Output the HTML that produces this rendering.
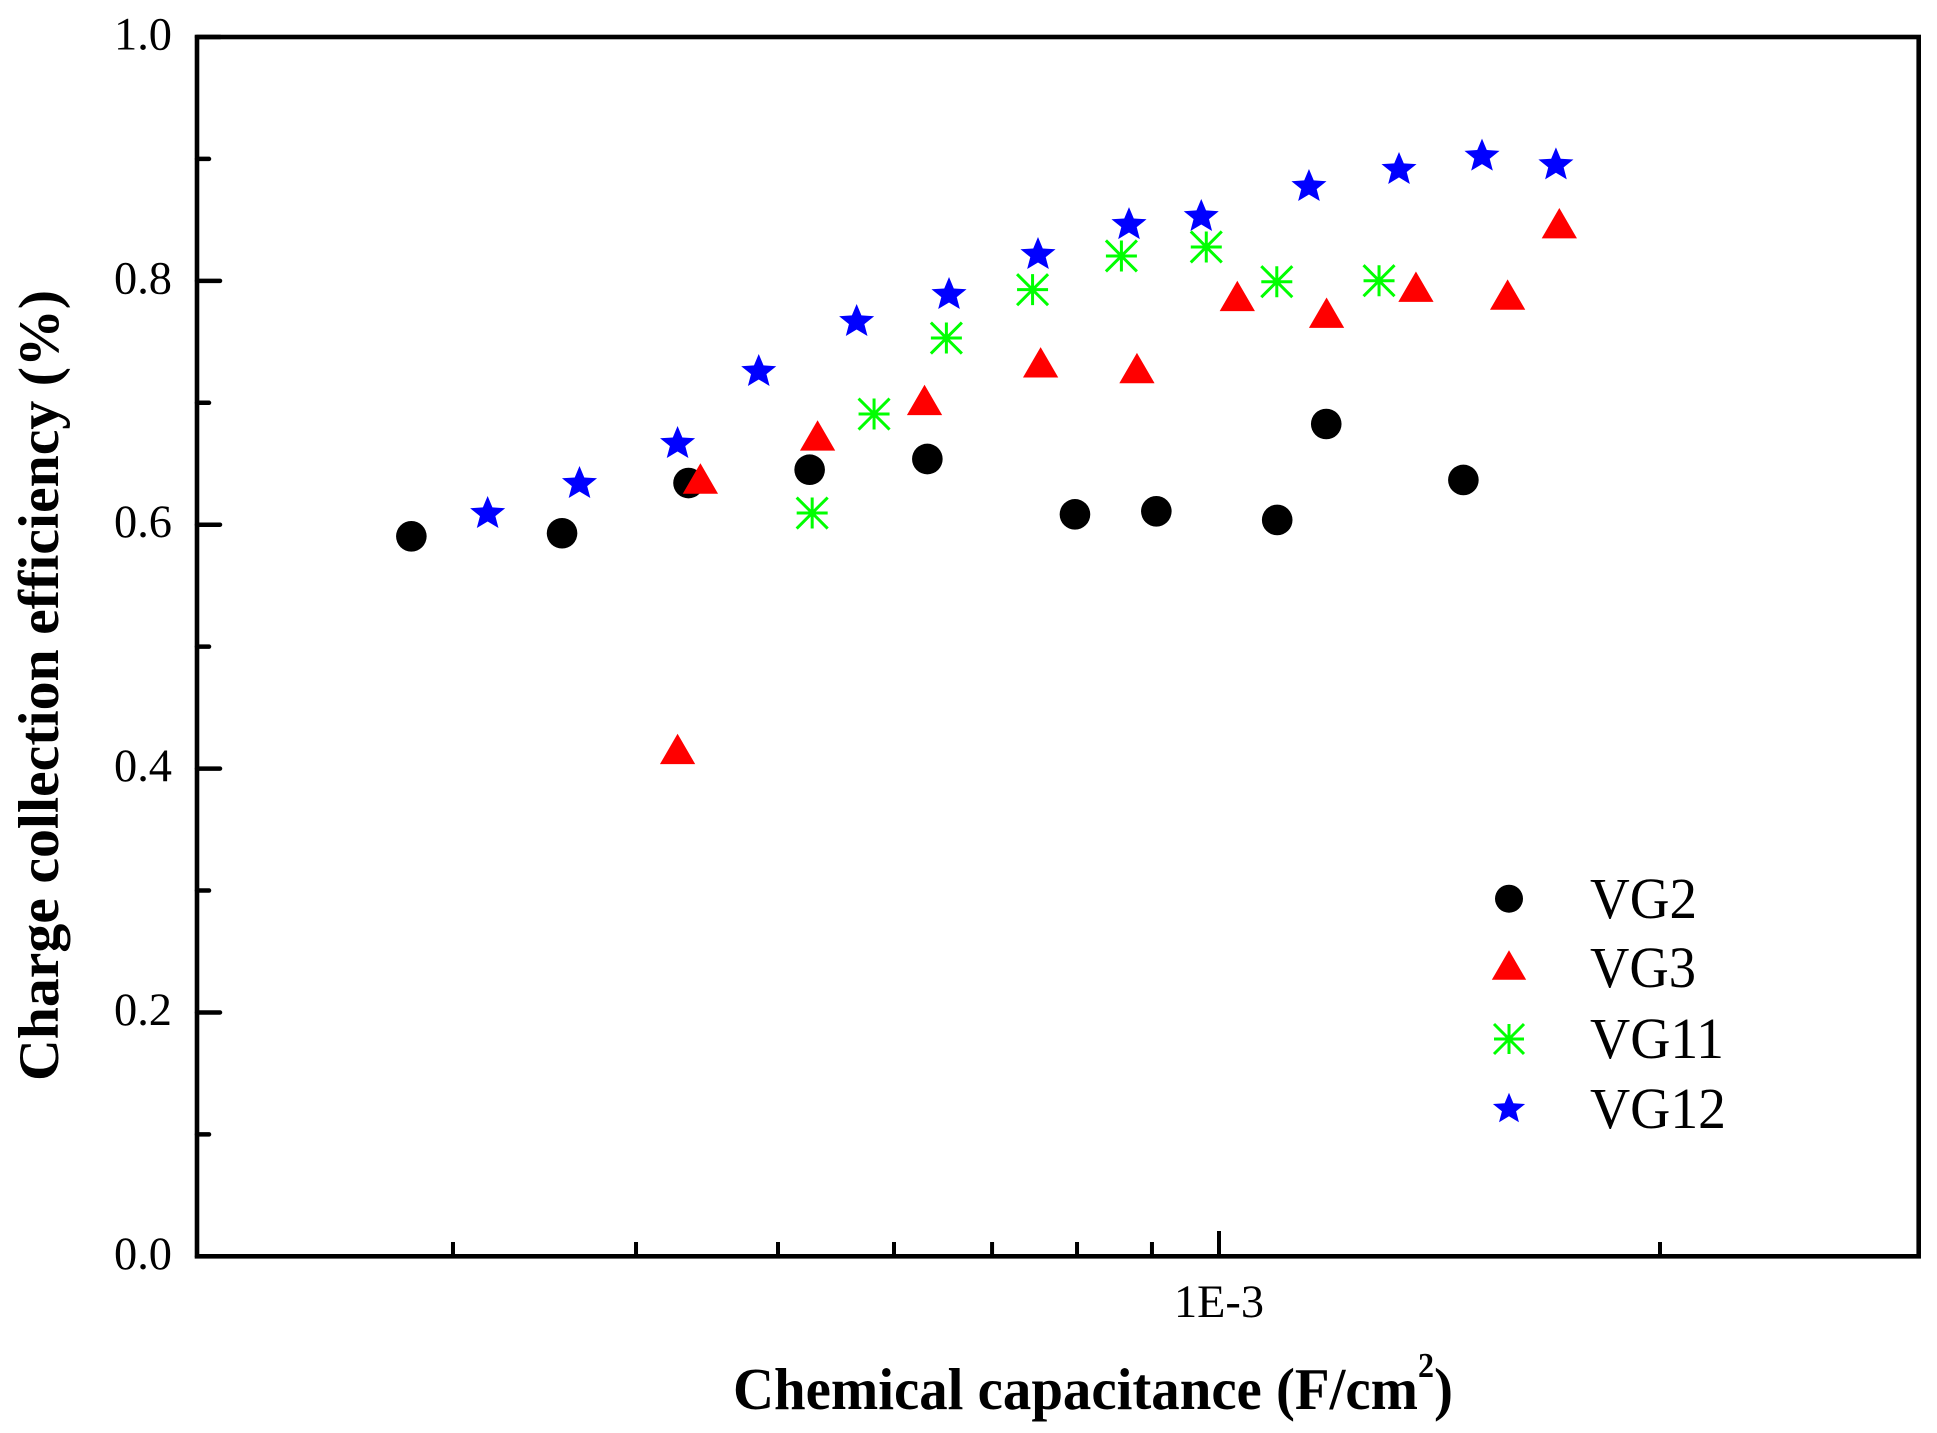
<!DOCTYPE html>
<html lang="en">
<head>
<meta charset="utf-8">
<title>Charge collection efficiency vs chemical capacitance</title>
<style>
  html, body { margin: 0; padding: 0; background: #fff; }
  svg { display: block; font-family: "Liberation Serif", serif; }
</style>
</head>
<body>
<svg id="chart" xmlns="http://www.w3.org/2000/svg" width="1937" height="1433" viewBox="0 0 1937 1433">
  <rect x="0" y="0" width="1937" height="1433" fill="#fff"/>
  <rect x="197" y="37" width="1721.7" height="1219.3" fill="none" stroke="#000" stroke-width="4.6"/>
  <g id="axes"></g>
  <g id="marks"></g>
  <g id="legend"></g>
  <text transform="translate(58,1081) rotate(-90)" font-size="57" font-weight="bold" textLength="791" lengthAdjust="spacingAndGlyphs">Charge collection efficiency (%)</text>
  <g font-weight="bold">
    <text x="733" y="1409" font-size="59" textLength="685" lengthAdjust="spacingAndGlyphs">Chemical capacitance (F/cm</text>
    <text x="1418" y="1377" font-size="35" textLength="16" lengthAdjust="spacingAndGlyphs">2</text>
    <text x="1434" y="1409" font-size="59" textLength="19" lengthAdjust="spacingAndGlyphs">)</text>
  </g>
</svg>
<script>
// ---- chart data ----
const vg2X = [2.810e-4, 3.561e-4, 4.344e-4, 5.255e-4, 6.323e-4, 7.974e-4, 9.062e-4, 1.0958e-3, 1.1836e-3, 1.4683e-3];
const vg2Y = [0.5905, 0.5930, 0.6342, 0.6451, 0.6539, 0.6085, 0.6110, 0.6039, 0.6826, 0.6367];
const vg3X = [4.270e-4, 4.426e-4, 5.321e-4, 6.295e-4, 7.555e-4, 8.790e-4, 1.0292e-3, 1.1842e-3, 1.3628e-3, 1.5740e-3, 1.7073e-3];
const vg3Y = [0.4161, 0.6379, 0.6732, 0.7023, 0.7332, 0.7285, 0.7876, 0.7739, 0.7952, 0.7888, 0.8473];
const vg11X = [5.276e-4, 5.815e-4, 6.515e-4, 7.460e-4, 8.578e-4, 9.802e-4, 1.0951e-3, 1.2860e-3];
const vg11Y = [0.6096, 0.6908, 0.7531, 0.7928, 0.8204, 0.8278, 0.7993, 0.8001];
const vg12X = [3.168e-4, 3.660e-4, 4.270e-4, 4.851e-4, 5.658e-4, 6.542e-4, 7.524e-4, 8.681e-4, 9.725e-4, 1.1519e-3, 1.3270e-3, 1.5119e-3, 1.6982e-3];
const vg12Y = [0.6104, 0.6350, 0.6678, 0.7269, 0.7679, 0.7900, 0.8228, 0.8474, 0.8540, 0.8786, 0.8926, 0.9035, 0.8964];
const yMajorTicks = [0, 0.2, 0.4, 0.6, 0.8, 1.0];
const yMinorTicks = [0.1, 0.3, 0.5, 0.7, 0.9];
const yTickLabels = ["0.0", "0.2", "0.4", "0.6", "0.8", "1.0"];
const xMajorTicks = [1e-3];
const xMinorTicks = [3e-4, 4e-4, 5e-4, 6e-4, 7e-4, 8e-4, 9e-4, 2e-3];
const xTickLabels = ["1E-3"];
const legendLabels = ["VG2", "VG3", "VG11", "VG12"];

// ---- axis functions ----
function xScale(v) { return 1219 + 1465 * Math.log10(v / 1e-3); }
function yScale(v) { return 1256.3 - 1219.3 * v; }

const NS = "http://www.w3.org/2000/svg";
function make(tag, parent, attrs) {
  const el = document.createElementNS(NS, tag);
  for (const k in attrs) el.setAttribute(k, attrs[k]);
  parent.appendChild(el);
  return el;
}

// ---- marker drawing ----
function circlePath(cx, cy, r) {
  return "M" + (cx - r) + " " + cy + "A" + r + " " + r + " 0 1 0 " + (cx + r) + " " + cy + "A" + r + " " + r + " 0 1 0 " + (cx - r) + " " + cy + "Z";
}
function trianglePath(cx, cy, hw, hh) {
  return "M" + cx + " " + (cy - hh) + "L" + (cx + hw) + " " + (cy + hh) + "L" + (cx - hw) + " " + (cy + hh) + "Z";
}
function starPath(cx, cy, w, h) {
  const rx = w / 1.902, ry = h / 1.809;
  const top = cy - h / 2;
  const inner = 0.44;
  let d = "";
  for (let i = 0; i < 10; i++) {
    const a = -Math.PI / 2 + i * Math.PI / 5;
    const f = i % 2 ? inner : 1;
    const px = cx + rx * f * Math.cos(a);
    const py = top + ry + ry * f * Math.sin(a);
    d += (i ? "L" : "M") + px.toFixed(2) + " " + py.toFixed(2);
  }
  return d + "Z";
}
function asteriskPath(cx, cy, s) {
  const l = cx - s, r = cx + s, t = cy - s, b = cy + s;
  return "M" + l + " " + cy + "L" + r + " " + cy + "M" + cx + " " + t + "L" + cx + " " + b +
         "M" + l + " " + t + "L" + r + " " + b + "M" + l + " " + b + "L" + r + " " + t;
}

function drawCircle(parent, cx, cy, size) {
  return make("path", parent, { d: circlePath(cx, cy, size), fill: "#000" });
}
function drawTriangle(parent, cx, cy, size) {
  return make("path", parent, { d: trianglePath(cx, cy, size * 1.16, size), fill: "#ff0000" });
}
function drawAsterisk(parent, cx, cy, size) {
  return make("path", parent, { d: asteriskPath(cx, cy, size), fill: "none", stroke: "#00ff00", "stroke-width": 3 });
}
function drawStar(parent, cx, cy, size) {
  return make("path", parent, { d: starPath(cx, cy, size * 2.19, size * 2), fill: "#0000ff" });
}

// ---- axes ----
const axes = document.getElementById("axes");
yMajorTicks.forEach(function (v, i) {
  const y = yScale(v);
  const t = make("line", axes, { x1: 197, x2: 220, y1: y, y2: y, stroke: "#000", "stroke-width": 4.5, "stroke-linecap": "round" });
  
  
  const lab = make("text", axes, { x: 172, y: y + 12.5, "font-size": 47, "text-anchor": "end", textLength: 58, lengthAdjust: "spacingAndGlyphs" });
  
  
  lab.textContent = yTickLabels[i];
});
yMinorTicks.forEach(function (v) {
  const y = yScale(v);
  const t = make("line", axes, { x1: 197, x2: 209, y1: y, y2: y, stroke: "#000", "stroke-width": 4.5, "stroke-linecap": "round" });
  
  
});
xMajorTicks.forEach(function (v, i) {
  const x = xScale(v);
  const t = make("line", axes, { x1: x, x2: x, y1: 1231, y2: 1256, stroke: "#000", "stroke-width": 4 });
  
  
  const lab = make("text", axes, { x: x, y: 1317, "font-size": 47, "text-anchor": "middle", textLength: 90, lengthAdjust: "spacingAndGlyphs" });
  
  
  lab.textContent = xTickLabels[i];
});
xMinorTicks.forEach(function (v) {
  const x = xScale(v);
  const t = make("line", axes, { x1: x, x2: x, y1: 1242, y2: 1256, stroke: "#000", "stroke-width": 4 });
  
  
});

// ---- series ----
const marks = document.getElementById("marks");

const gVG2 = make("g", marks, {});


vg2X.forEach(function (v, i) {
  const m = drawCircle(gVG2, xScale(v), yScale(vg2Y[i]), 15.3);
  
  
});

const gVG3 = make("g", marks, {});


vg3X.forEach(function (v, i) {
  const m = drawTriangle(gVG3, xScale(v), yScale(vg3Y[i]), 15.2);
  
  
});

const gVG11 = make("g", marks, {});


vg11X.forEach(function (v, i) {
  const m = drawAsterisk(gVG11, xScale(v), yScale(vg11Y[i]), 15.5);
  
  
});

const gVG12 = make("g", marks, {});


vg12X.forEach(function (v, i) {
  const m = drawStar(gVG12, xScale(v), yScale(vg12Y[i]), 16);
  
  
});

// ---- legend ----
const legend = document.getElementById("legend");
const legendMarkers = [drawCircle, drawTriangle, drawAsterisk, drawStar];
const legendSizes = [14, 14.8, 15, 14.7];
const legendRowY = [898.7, 965, 1039, 1107.5];
const legendBaseY = [918, 987, 1058, 1128];
const legendTextLengths = [107, 106, 134, 136];
legendLabels.forEach(function (name, i) {
  const m = legendMarkers[i](legend, 1509, legendRowY[i], legendSizes[i]);
  
  
  const t = make("text", legend, { x: 1590, y: legendBaseY[i], "font-size": 58, textLength: legendTextLengths[i], lengthAdjust: "spacingAndGlyphs" });
  
  
  t.textContent = name;
});
</script>
</body>
</html>
